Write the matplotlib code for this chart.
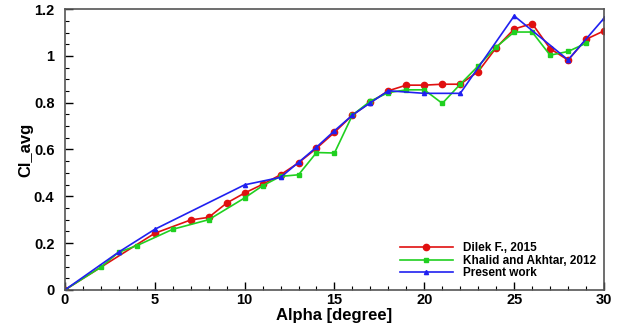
import numpy as np
import matplotlib.pyplot as plt
from matplotlib.ticker import MultipleLocator

plt.rcParams['font.family'] = ['Liberation Sans', 'DejaVu Sans']
plt.rcParams['font.weight'] = 'bold'

# Dilek F., 2015
x_dilek = [0, 5, 7, 8, 9, 10, 11, 12, 13, 14, 15, 16, 17, 18, 19, 20, 21, 22,
           23, 24, 25, 26, 27, 28, 29, 30]
cl_dilek = [0.0, 0.242, 0.299, 0.31, 0.371, 0.414, 0.451, 0.492, 0.543, 0.605,
            0.673, 0.747, 0.801, 0.851, 0.875, 0.875, 0.879, 0.879, 0.933,
            1.035, 1.115, 1.138, 1.031, 0.982, 1.071, 1.107]

# Khalid and Akhtar, 2012
x_khalid = [0, 2, 3, 4, 6, 8, 10, 11, 12, 13, 14, 15, 16, 17, 18, 19, 20, 21,
            22, 23, 24, 25, 26, 27, 28, 29]
cl_khalid = [0.0, 0.097, 0.161, 0.189, 0.259, 0.30, 0.393, 0.445, 0.485,
             0.492, 0.587, 0.585, 0.747, 0.807, 0.843, 0.855, 0.855, 0.797,
             0.879, 0.957, 1.038, 1.102, 1.102, 1.003, 1.019, 1.054]

# Present work
x_present = [0, 3, 5, 10, 12, 13, 14, 15, 16, 17, 18, 20, 22, 25, 28, 30]
cl_present = [0.0, 0.162, 0.259, 0.449, 0.481, 0.545, 0.61, 0.68, 0.747,
              0.80, 0.851, 0.840, 0.840, 1.171, 0.983, 1.161]

fig = plt.figure(figsize=(6.24, 3.25), dpi=100)
ax = fig.add_axes([0.104, 0.108, 0.864, 0.864])

ax.plot(x_dilek, cl_dilek, color='#e01010', lw=1.2, marker='o', ms=4.5,
        label='Dilek F., 2015')
ax.plot(x_khalid, cl_khalid, color='#20d020', lw=1.2, marker='s', ms=2.5,
        label='Khalid and Akhtar, 2012')
ax.plot(x_present, cl_present, color='#2020f0', lw=1.2, marker='^', ms=3,
        label='Present work')

ax.set_xlim(0, 30)
ax.set_ylim(0, 1.2)
ax.xaxis.set_major_locator(MultipleLocator(5))
ax.xaxis.set_minor_locator(MultipleLocator(1))
ax.yaxis.set_major_locator(MultipleLocator(0.2))
ax.yaxis.set_minor_locator(MultipleLocator(0.05))
ax.yaxis.set_major_formatter(plt.FuncFormatter(lambda v, p: f'{v:g}'))
ax.tick_params(which='both', direction='in', labelsize=10.5)
ax.tick_params(axis='x', pad=2)
ax.tick_params(axis='y', pad=7.5)
ax.tick_params(which='major', length=6, width=1)
ax.tick_params(which='minor', length=3, width=0.8)
for s in ax.spines.values():
    s.set_color('#555555')
    s.set_linewidth(1.2)

ax.set_xlabel('Alpha [degree]', fontsize=12, fontweight='bold', labelpad=1)
ax.set_ylabel('Cl_avg', fontsize=12, fontweight='bold', labelpad=0)

leg = ax.legend(loc='lower right', bbox_to_anchor=(1.005, 0.0), frameon=False,
                fontsize=8.5, handlelength=4.5, labelspacing=0.05,
                handletextpad=0.85)

plt.savefig('out.png', dpi=100)
